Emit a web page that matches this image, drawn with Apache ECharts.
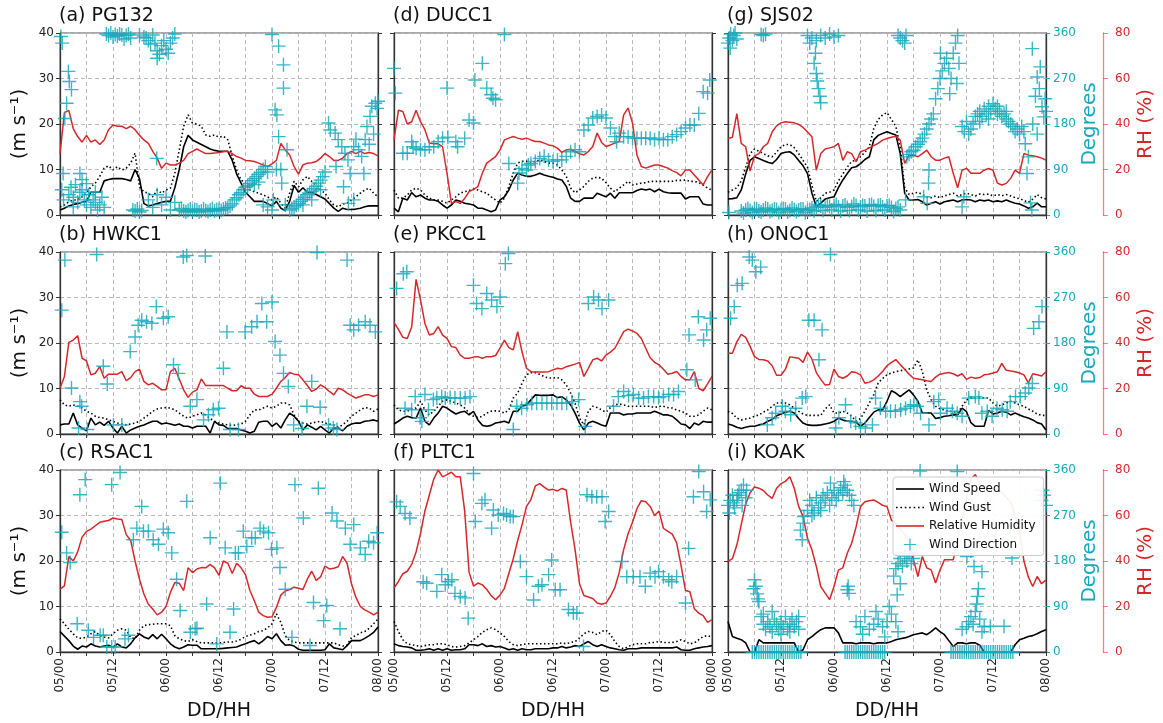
<!DOCTYPE html>
<html>
<head>
<meta charset="utf-8">
<script src="https://cdn.jsdelivr.net/npm/echarts/dist/echarts.min.js"></script>
<style>
  html, body { margin: 0; padding: 0; background: #fff; }
  #chart { width: 1163px; height: 723px; }
</style>
</head>
<body>
<div id="chart"></div>
<script>
// ---- Station observations, 05/00 to 08/00, hourly (index = hours since 05/00) ----
const stationNames = ['(a) PG132', '(b) HWKC1', '(c) RSAC1', '(d) DUCC1', '(e) PKCC1', '(f) PLTC1', '(g) SJS02', '(h) ONOC1', '(i) KOAK'];
const dayTicks = [0, 12, 24, 36, 48, 60, 72];

// (a) PG132
const ws_PG132 = [1.1,1.5,2.0,2.3,2.5,2.8,3.0,5.0,5.0,5.0,7.5,7.8, 8.0,8.0,8.0,7.8,7.5,10.0,8.0,2.5,2.0,2.2,2.5,2.8,
  3.0,3.0,6.0,10.0,15.0,17.5,16.5,16.0,15.5,15.0,14.5,14.2, 14.0,14.0,14.0,12.0,9.0,7.0,5.0,4.0,3.0,3.0,3.0,2.5,
  2.0,3.0,1.5,1.0,3.0,6.5,5.0,6.0,5.0,5.0,4.5,4.0, 3.5,2.5,1.5,0.8,1.5,1.2,1.2,1.3,1.5,1.8,2.0,2.0, 2.0];
const wg_PG132 = [1.8,2.2,2.9,3.3,3.3,4.0,4.8,6.2,7.0,8.5,10.3,10.8, 9.9,10.6,9.9,10.3,11.4,13.6,6.2,5.1,4.8,4.0,5.5,4.8,
  5.5,5.9,9.2,14.3,19.5,22.0,20.2,20.0,19.5,17.6,17.3,17.6, 17.1,17.3,16.5,12.9,9.9,7.7,7.0,5.5,5.1,4.8,4.4,4.0,
  3.3,4.0,2.6,1.5,4.8,7.4,6.2,7.7,8.5,7.4,6.6,5.5, 4.8,3.3,2.2,1.8,2.4,2.6,3.3,4.0,4.8,5.5,5.9,4.8, 4.0];
const rh_PG132 = [27,45,46,38,34.5,32,35,32,33,31,33,37.5, 39.6,39,39,38,39,37.5,35,33,31.5,28,25,20.5,
  22.8,22,22,22.8,24,27,28,29,28,27,27,27.2, 27.5,27.8,28,27,25.7,25,24,23.8,23.5,22.8,22,21.3,
  22.5,24,31.5,28.6,26.4,21.3,18,22,22.8,23,23.5,25, 27,25.7,24,24,25,27,28,27,28,27,27.5,27, 26];
const wd_PG132 = [[0.2,353],[0.5,340],[1.9,284],[2.1,264],[2.6,248],[1.5,221],[1.1,191],[0.7,82],[0.4,50],[0.8,30],
  [2,40],[2.5,55],[3,35],[3.5,60],[4,25],[4.5,82],[4.5,45],[5,70],[5.5,30],[6,20],[6.5,40],[7,15],[7.5,30],[8,25],[8.5,10],[9,20],[9.5,35],[10,15],[3,16],[5,50],[6,62],[8,45],
  [10.5,358],[11,355],[11.5,360],[12,352],[12.5,357],[13,354],[13.5,358],[14,356],[14.5,348],[15,355],[15.5,358],[16,350],
  [16.5,10],[17,8],[17.5,12],[18,6],[18.5,9],[18,356],[19,352],
  [19.5,350],[20,345],[20.5,338],[21,356],[21.5,340],[22,325],[22.5,318],[23,335],[23.5,345],[24,328],[24.5,320],[25,340],[25.5,350],[26,358],[22,310],
  [20,30],[21,15],[22,40],[23,20],[24,35],[25,10],[26,25],[21.9,112],
  [27,10],[27.5,13],[28,8],[28.5,6],[29,9],[29.5,12],[30,7],[30.5,11],[31,10],[31.5,6],[32,8],[32.5,12],[33,9],[33.5,7],[34,10],[34.5,13],[35,8],[35.5,11],[36,11],[36.5,9],[37,12],[37.5,14],
  [38,15],[38.5,18],[39,22],[39.5,30],[40,34],[40.5,40],[41,44],[41.5,50],[42,55],[42.5,58],[43,62],[43.5,68],[44,72],[44.5,76],[45,80],[45.5,84],[46,90],[46.5,96],[44,60],[45,65],[46,20],[47,16],[47,85],
  [48,357],[49.5,334],[50.6,297],[50.6,251],[48.7,208],[49.1,198],[49.5,155],[51.4,129],[50.2,63],[48.3,30],[51,20],[48,10],[49,90],[50,90],
  [52,10],[52.5,13],[53,16],[53.5,19],[54,23],[54.5,27],[55,31],[55.5,35],[56,40],[56.5,43],[57,47],[57.5,52],[58,57],[58.5,63],[59,69],[59.5,76],[60,85],[55,20],[57,30],[59,50],
  [60.8,182],[61.2,168],[62.3,162],[63,149],[63.8,135],[64.5,122],[65.2,109],[62.5,96],[65.7,82],[64.2,56],[65.3,23],
  [66.5,135],[67.6,129],[68.3,116],[69.1,149],[69.5,175],[70.2,195],[70.6,215],[71.4,221],[71.8,211],[68.8,82],[66.5,30],[67,150],[70,140],[71,160],[72,225]];

// (b) HWKC1
const ws_HWKC1 = [2,2.2,2.2,4.6,2,1.3,0.7,3.5,2,2.6,1.9,2.8, 1.3,0.2,1.7,0.2,0.9,1.3,1.7,2,2.4,2.8,2.8,2.2,
  2.4,2.2,1.9,2.2,1.7,1.7,1.3,1.7,1.7,1.7,0.2,2.8, 2,1.9,1.2,1.2,1.2,0.9,0.6,0.2,0.6,2.6,2.8,2.8,
  1.7,2.4,1.3,3.1,4.6,3.9,2.8,0.9,2,1.5,0.9,1.7, 0.9,0.2,1.3,1.3,0.7,1.7,2.2,2.4,2.4,2.8,2.9,3.1, 2.8];
const wg_HWKC1 = [7.5,6.4,6.1,6.4,6.1,5.7,5,4.6,3.9,3.6,3.5,3.1, 2.8,2.4,2.2,2,2.2,2.4,2.8,3.5,4.2,5,5.5,5.7,
  5.8,5.7,5.3,4.6,3.9,3.5,3.9,4.2,4.6,4.2,3.4,2.8, 2.4,2.2,2,1.9,2,2.2,2.8,4.2,5.3,5.3,5.7,6.1,
  5.7,6.1,6.8,6.8,6.4,4.2,2.8,2.4,2.2,2.4,2.6,2.8, 2.4,2.2,1.9,1.5,2,2.8,3.9,4.6,5.3,5.8,5.7,5, 5.5];
const rh_HWKC1 = [20.1,25.3,40.3,41.3,43.2,33.3,32.1,26,26.7,29.6,24.5,26.3, 26.3,26.3,27.4,23.4,24.8,27.4,28.5,23.1,21.6,22.3,20.9,19.4,
  19.4,27.4,28.9,24.2,19.4,16.1,18.4,19.4,24.2,21.3,21.3,21.3, 21.3,21.3,20.1,19,19,21.2,20.1,20.1,17.5,16.5,16.5,16.5,
  17.5,20.1,23.1,24.8,27,26.3,26,23.8,21.3,18.7,19.7,21.6, 20.4,18.7,17.2,20.1,19.4,18,16.9,15.8,16.5,17.2,17.2,16.5, 17.2];
const wd_HWKC1 = [[0.4,245],[1.1,344],[2.6,91],[4.5,64],[4.9,55],[4.2,12],[6.2,9],[8.3,355],[9.8,134],[10.7,99],[12.1,18],[14,18],
  [15.9,163],[17,192],[17.7,215],[18.5,225],[19.6,222],[20.8,219],[21.8,252],[23.4,229],[24.5,232],[25.7,137],[26.8,120],[27.9,350],[28.7,353],
  [29.5,55],[31,68],[32.9,352],[32.5,28],[33.6,38],[34.7,48],[35.9,51],[37,130],[37.8,202],[38.5,9],[40.4,9],[41.9,202],[43.4,212],[44.6,222],
  [45.7,258],[46.8,222],[48,261],[48.7,183],[49.8,156],[50.6,120],[51.7,94],[52.9,18],[54.8,11],[55.9,55],[57,104],[58.2,359],[58.9,53],
  [60.8,18],[61.9,12],[62.7,9],[65,344],[65.7,215],[66.5,206],[67.6,215],[69.1,222],[70.2,215],[71.4,202]];

// (c) RSAC1
const ws_RSAC1 = [4.5,3.5,2.5,1.3,0.6,1.3,1.1,1.8,1.3,1.1,1.3,1.5, 1.0,1.8,1.1,0.9,1.8,3.1,4.0,3.3,2.9,3.8,2.9,3.9,
  2.9,1.8,1.1,0.7,1.1,1.6,1.5,1.5,0.7,0.7,0.7,0.7, 0.7,0.8,0.9,1.0,1.1,1.5,1.8,2.2,2.5,1.8,2.5,3.4,
  2.9,4.0,2.5,1.5,1.6,1.3,0.6,0.4,0.4,0.4,0.4,0.4, 0.5,1.8,0.9,0.7,0.5,1.4,2.5,2.5,2.5,3.0,3.6,4.3, 5.5];
const wg_RSAC1 = [7.3,6.2,5.0,4.0,3.1,3.0,3.3,4.0,4.5,3.6,3.3,3.1, 4.0,4.8,5.1,4.8,3.2,2.9,4.8,5.8,6.0,6.1,6.2,6.2,
  6.2,5.8,3.6,2.9,2.5,2.3,2.7,2.3,2.0,2.0,2.0,2.0, 2.0,2.1,2.2,2.2,2.4,2.8,3.4,3.7,4.0,4.5,4.7,5.3,
  6.2,8.4,6.5,3.6,2.5,2.2,2.0,2.0,2.0,2.0,2.0,2.0, 2.0,2.0,2.0,1.6,1.3,1.5,3.2,3.6,4.2,4.5,5.2,6.2, 7.3];
const rh_RSAC1 = [27.6,29.1,42,40,44,50.5,53,54,55.5,57,57.5,57.8, 58.9,58.5,58.2,51.6,49,40,32,25.5,21,18.9,16.3,17.5,
  20,26.2,30.5,30.2,27,37,34.9,36.5,37.1,37,38.5,37, 33.7,40,39,34.5,39,37,34,27,22.5,17.5,16,15.3,
  15.5,19.6,25,26.8,27.5,28.5,28,27.5,32,35.5,31.5,33, 37.8,36.5,36.8,37.5,42,39,30,24,20,18.5,17.5,16.3, 17.5];
const wd_RSAC1 = [[0.4,237],[1.5,196],[2.3,177],[3.9,56],[4.5,311],[5.7,341],[6.4,43],[7.6,29],[9.1,33],[9.8,33],[10.6,10],[11.7,10],[11.7,331],
  [12.5,10],[13.6,355],[14.7,26],[15.5,33],[16.6,222],[17.4,245],[18.5,288],[18.9,239],[20,239],[21.1,222],[22.3,213],[23.4,243],[24.5,236],
  [25.3,196],[26.4,144],[27.2,82],[28.7,298],[29.5,39],[30.6,46],[31,47],[33.2,95],[34,226],[35.5,16],[36.3,334],[37.4,206],[38.5,39],
  [39.7,196],[39.3,85],[40.4,196],[41.5,239],[42.3,209],[43.4,226],[44.2,226],[45.3,245],[46.1,239],[47.2,236],[47.9,203],[49.1,206],
  [49.8,167],[51,124],[52.5,29],[53.2,331],[55.1,265],[56.6,13],[57.4,98],[58.5,324],[59.7,62],[60.4,92],[61.6,275],[62.7,259],[63.4,46],
  [64.6,245],[65.7,213],[66.5,252],[68,206],[69.1,193],[69.9,219],[71,216],[71.8,236]];

// (d) DUCC1
const ws_DUCC1 = [1.5,0.7,3.7,3.3,4.9,4.0,4.4,3.7,3.3,3.3,3.0,2.2, 1.5,2.2,3.3,3.0,2.6,2.4,2.2,1.5,1.5,1.1,0.7,1.1,
  3.3,4.0,5.5,7.7,9.2,8.8,8.5,8.5,8.8,9.2,8.8,8.5, 8.3,7.9,7.7,6.3,3.7,3.0,3.0,3.7,3.7,3.7,4.8,4.4,
  4.0,4.8,3.7,4.9,4.9,4.9,4.9,5.4,5.7,5.5,5.7,5.1, 5.7,5.1,4.9,4.8,4.8,4.8,3.5,4.0,4.0,4.0,2.4,2.2, 2.2];
const wg_DUCC1 = [5.5,3.7,3.7,4.4,5.5,5.9,5.5,4.4,3.7,3.3,3.3,3.0, 2.6,3.3,4.0,4.8,5.1,5.4,5.7,5.5,5.1,4.8,4.0,3.3,
  2.6,3.7,6.3,9.2,11.4,11.8,11.8,11.4,11.8,12.1,11.8,11.4, 11.4,11.0,9.9,8.5,5.9,4.9,5.5,6.3,7.4,8.1,8.3,8.1,
  7.1,5.9,5.1,5.9,6.6,7.4,6.6,6.8,7.0,7.1,7.4,7.4, 7.4,7.4,7.4,7.4,7.6,7.6,7.7,7.4,7.4,7.1,6.6,5.9, 5.5];
const rh_DUCC1 = [33,46,45.5,40,41,46,41,37.5,31.6,31.3,31.3,30, 18.4,5.1,5.9,5.1,7.3,10.3,11.3,12.5,18.4,22.8,24.2,25.7,
  28.6,33,33.8,34.5,33.8,33.3,33.8,33,32.3,32.3,31.6,30.8, 30.4,29.4,27.5,28.6,28.9,27.9,26.9,26.4,27.9,30.1,36,31.9,
  30.1,30.8,31.6,32.3,44,47,40.4,26.4,21.3,20.6,21.3,22, 22,21.3,20.6,19.5,18.6,17.2,19.8,19.8,17.6,15.4,13.2,16.9, 19.8];
const wd_DUCC1 = [[0,290],[0.3,241],[2,122],[3,122],[4,145],[4.3,135],[5,132],[6,129],[7,129],[8,135],[9,135],[10,145],[11,152],[12,251],[12.2,154],
  [14,145],[14.4,135],[16,152],[17,188],[18,182],[18.3,267],[20,300],[21,251],[22,238],[22.4,231],[23,228],[25,357],[26,102],[28,63],[28.3,83],
  [29,92],[30,89],[30.4,99],[31,102],[32,106],[33,112],[34,116],[35,109],[36,106],[37,109],[38,109],[39,116],[40,125],[41,129],[42,125],
  [43,168],[44,178],[45,192],[46,195],[47,198],[48,192],[49,172],[50,155],[50.4,145],[51,162],[52,155],[53,155],[54,152],[55,152],[56,152],
  [57,152],[58,152],[59,149],[60,152],[61,149],[62,149],[63,155],[64,159],[65,165],[66,172],[67,178],[68,178],[69,201],[70,244],[71,241],[71.5,267]];

// (e) PKCC1
const ws_PKCC1 = [2.2,2.8,3.5,3.9,3.6,3.5,5.7,2.8,2,3.5,4.6,6.1, 5.7,5,4.4,4.8,5,4.2,5,3.1,1.9,1.7,1.9,2.4,
  2.6,2.8,2.4,5,5,6.1,6.4,7.5,8.6,8.5,8.5,8.5, 8.6,8,8.2,7.5,6.4,4.6,2.4,0.9,2.4,2.8,2.4,2,
  1.7,4.6,4.6,4.6,4.2,4.4,4.4,4.6,4.6,4.6,4.6,5, 4.6,4.2,4.2,3.9,3.1,2.2,2,1.2,2.4,2,2.8,2.6, 2.6];
const wg_PKCC1 = [6.4,5.3,5,5,5.5,5.7,7.2,5.3,4.2,5,6.1,7.2, 7.5,7.2,6.8,6.4,5.7,4.6,3.9,3.6,3.9,4.6,5,5.1,
  5,4.6,5.3,7.9,9,11.2,13,13.5,13.5,13.1,12.6,12.3, 12.3,12.4,11.9,10.8,9,6.8,3.5,2,5,6.1,5.8,5.3,
  4.8,5.8,6.4,6.6,6.4,6.1,6.1,6.1,6.1,6.1,6.1,5.8, 6.1,6.1,5.8,5.7,5.3,5,4.6,3.9,3.9,4.2,5,5.7, 5.3];
const rh_PKCC1 = [49,46,42.5,42,47,68,59,48.6,43.5,44.2,47.2,43.5, 42,38.4,38,34.7,33.3,33.3,33.8,34,33.3,34,34,34.5,
  37.7,41.3,38,37,45,36,28.9,27.4,27.2,27.2,27.2,27.4, 28.2,28.9,28.6,29.6,30.1,30.7,31.5,25.3,28.9,32.6,33.3,32.1,
  34.7,36,37.7,41.3,45,46.1,45.3,44.2,42,37.7,33.5,31.5, 30.4,28.5,26.3,26.7,27.5,25.3,23.8,23.8,27.4,20.1,19,22, 25.3];
const wd_PKCC1 = [[0.6,288],[2.1,317],[2.9,321],[2.5,51],[4,48],[4.8,74],[5.9,32],[6.3,25],[7,78],[7.8,48],[8.9,68],[9.7,71],[10.8,74],[11.6,71],
  [12.7,72],[13.8,71],[15,71],[16.1,71],[17.2,74],[18,294],[18.7,258],[19.9,248],[21,278],[22.1,265],[23.3,252],[24,271],[25.2,337],[25.9,357],
  [27,9],[27.8,55],[28.9,51],[30.1,58],[31.2,61],[32.3,61],[33.5,61],[34.6,61],[35.7,61],[36.9,61],[38,61],[39.1,61],[40.3,64],[41.8,68],
  [43.3,15],[44,258],[45.2,271],[46.3,265],[47.1,248],[48.6,265],[49.7,55],[50.8,74],[52,84],[53.1,76],[54.2,78],[55.4,71],[56.5,71],
  [57.6,74],[58.8,74],[59.9,72],[61,74],[62.2,78],[63.3,78],[64.4,84],[66.3,127],[66.8,196],[68.2,107],[68.9,232],[70.1,186],[70.8,206],[71.6,229]];

// (f) PLTC1
const ws_PLTC1 = [1.8,1.4,1.2,1.1,0.9,0.4,0.4,0.5,0.7,0.4,0.7,0.4, 0.7,0.4,0.5,0.5,0.7,1.6,1.6,1.4,1.8,1.2,1.4,1.1,
  1.2,0.9,0.5,0.7,0.4,0.7,0.5,0.5,0.7,0.7,0.7,0.7, 0.9,0.9,1.2,0.9,1.1,1.4,1.2,1.8,2.3,1.6,1.2,1.6,
  1.2,0.9,0.7,0.5,0.4,0.7,0.7,0.7,0.9,0.9,0.9,0.9, 0.9,0.9,0.9,0.9,1.1,0.5,0.4,0.4,0.7,0.9,1.1,1.2, 1.4];
const wg_PLTC1 = [6.7,4.5,2.7,1.8,1.6,1.4,1.2,1.4,1.6,1.6,1.8,1.8, 1.6,1.2,1.1,1.2,1.4,2,2.7,3.4,4.3,4.9,5.3,4.9,
  4.2,3.4,2.3,1.6,1.4,1.6,1.8,1.8,1.8,1.8,1.8,1.8, 1.8,1.8,2,1.8,2.1,2.3,3.1,4,4.5,4.3,3.8,4.5,
  4.8,3.8,2.3,1.2,0.7,1.2,1.6,1.8,1.8,1.8,2.1,2.1, 2.3,2.1,2.1,2.1,2.3,2.7,2.3,1.8,2,2.7,3.4,3.6, 3.3];
const rh_PLTC1 = [28.1,31,34.4,35.5,38.5,44,52,62,69,76,80,77, 78,79,77,77,62,35,29,30.3,29.5,27.5,24.8,23,
  25,28,34.5,41,49,56,64,67,73,74,72.5,71.2, 71.5,70.8,71.9,71.2,57,45,30,24.8,24.2,23.5,21.5,21,
  21.5,24.5,28.3,35,45,52,57,63,66.5,66,64,60, 62,54.4,53,51.8,48,38,27,26.5,19,17.1,16,13, 14.2];
const wd_PLTC1 = [[0.6,297],[1.4,288],[2.5,274],[3.6,265],[6.6,139],[7.4,136],[9.7,120],[10.8,153],[11.6,133],[12.3,139],[13.1,143],[13.8,116],
  [15,110],[16.1,107],[16.8,67],[18,353],[18.4,258],[19.9,294],[20.6,301],[22.1,245],[22.5,281],[23.6,271],[24.8,274],[25.5,271],[26.3,268],
  [27,268],[28.6,179],[30,149],[31.6,103],[32.7,130],[33.5,133],[35,153],[35.7,182],[36.5,123],[37.6,123],[39.5,84],[40.6,77],[41.4,77],
  [42.9,11],[43.7,311],[44.8,307],[45.9,307],[47.1,307],[47.8,258],[48.6,278],[51.6,179],[52.7,149],[54.2,149],[55.7,149],[56.9,130],
  [58,156],[59.1,149],[59.9,159],[61,149],[62.2,143],[62.9,139],[64,149],[66,97],[66.7,205],[67.8,307],[69,357],[70.1,317],[70.8,278],[71.6,301]];

// (g) SJS02
const ws_SJS02 = [3.5,3.6,3.8,5.5,9.0,12.0,12.8,12.4,12.0,11.6,11.3,12.2, 13.5,13.8,13.9,13.2,12.0,10.8,9.1,4.8,1.8,2.6,3.5,3.8,
  4.0,6.0,7.7,9.1,10.4,10.6,11.3,12.2,12.8,16.5,17.5,17.9, 18.3,17.9,17.6,13.5,4.8,3.3,3.3,3.4,2.9,2.2,2.6,2.9,
  2.4,2.9,3.1,3.3,2.9,3.3,3.4,3.3,2.9,3.3,3.1,3.3, 2.9,3.1,2.9,3.3,2.9,2.6,2.4,2.0,1.5,1.8,2.6,1.8, 1.8];
const wg_SJS02 = [5.0,5.5,6.0,7.5,10.5,13.5,14.5,14.0,13.5,13.0,12.8,13.8, 15.0,15.5,15.5,14.8,13.5,12.0,10.5,6.5,3.0,3.8,4.8,5.0,
  5.5,7.5,9.0,10.5,11.8,12.0,12.8,13.8,15.0,19.0,21.0,22.0, 22.5,21.0,19.5,15.0,6.0,4.5,4.8,5.0,4.5,4.0,3.8,4.2,
  3.8,4.2,4.5,4.8,4.2,4.5,4.8,4.5,4.2,4.6,4.5,4.6, 4.2,4.5,4.2,4.5,4.2,3.8,3.6,3.2,2.8,3.5,4.5,3.8, 3.5];
const rh_SJS02 = [33.6,34.2,44.6,31.5,30,19.3,26,27,30,31.5,36.5,39.2, 40.5,41,40.8,40.5,39.8,38.5,36.5,34.4,19.7,27,29,29.5,
  30,31.5,24,27.8,27,23.4,27.8,28.5,29.5,30.5,31.5,32.9, 33.6,34.2,34.6,32.9,22.7,26.3,26.3,25.6,27,28.5,25.6,24.1,
  24.1,25,25.6,18.3,12,19.7,20.5,18.3,18.3,18.3,19.7,20.5, 19.7,14,13.2,13.9,16.1,19.7,18.3,27,26.3,26,25.6,25, 24.1];
const wd_SJS02 = [[0,340],[0.3,350],[0.6,358],[1,345],[1.3,355],[1.6,360],[2,348],[0.5,330],[0.2,5],
  [3,8],[4,10],[5,9],[6,11],[7,8],[8,10],[9,12],[10,9],[11,11],[12,10],[13,12],[14,9],[15,11],[16,10],[17,12],[18,9],[19,14],[20,16],[21,18],
  [22,15],[23,17],[24,19],[25,16],[26,18],[27,15],[28,17],[29,19],[30,16],[31,18],[32,20],[33,17],[34,19],[35,16],[36,18],[37,15],[38,13],[39,10],
  [3.5,4],[5.5,5],[7.5,6],[9.5,7],[11.5,5],[13.5,6],[15.5,7],[17.5,5],[19.5,8],[21.5,9],[23.5,10],[25.5,8],[27.5,9],[29.5,10],[31.5,8],[33.5,9],[35.5,10],[37.5,7],
  [4.5,13],[6.5,12],[8.5,14],[10.5,12],[12.5,13],[14.5,14],[16.5,12],[18.5,11],[20.5,20],[22.5,19],[24.5,21],[26.5,20],[28.5,22],[30.5,19],[32.5,21],[34.5,20],[36.5,19],[38.5,16],
  [7.5,357],[8,355],[8.5,358],
  [18,355],[19,350],[20,345],[21,355],[22,350],[23,358],[24,352],[25,355],[18.5,340],[19.5,300],[20,280],[20.2,265],[20.5,250],[20.8,235],[21,222],[19.8,320],
  [38.5,355],[39,350],[39.5,345],[40,340],[40.3,355],
  [40.5,115],[41,120],[41.5,125],[42,128],[42.5,135],[43,140],[43.5,145],[44,152],[44.5,160],[45,170],[45.5,180],[46,190],[45.5,89],[45.4,63],[44.3,36],[40.2,30],[45.1,23],
  [46.5,200],[47,230],[47.5,250],[48,270],[48.5,285],[49,300],[49.5,310],[50,290],[50.5,270],[51,320],[51.5,340],[52,355],[52.3,300],[51.8,260],[50.2,240],[48.1,320],
  [53,175],[53.5,165],[54,185],[54.5,160],[55,170],[55.5,180],[53.4,36],[53,16],
  [56,195],[56.5,200],[57,205],[57.5,195],[58,210],[58.5,200],[59,215],[59.5,205],[60,220],[60.5,210],[61,215],[61.5,205],[62,195],[62.5,200],[63,190],[63.5,185],[64,180],
  [57,185],[59,190],[61,200],[63,205],[64.5,175],[65,165],[65.5,170],[66,160],[66.5,175],[67,165],
  [68.9,329],[70.7,293],[70,273],[69.6,235],[71.1,214],[71.5,194],[67.3,141],[68,115],[67.7,82],[68.5,24],[68.8,10],[70.5,250],[71.8,230],[72,205],[69,180],[70,160]];

// (h) ONOC1
const ws_ONOC1 = [2.2,1.9,1.5,1.2,1.5,1.7,1.7,2,2.2,2.8,3.2,4.0, 4.4,4.8,5,4.6,3.4,2.4,2,1.9,1.9,2,2.2,2.4,
  2.8,3.5,3.1,2.8,2.8,2.6,1.7,2.4,3.6,4.8,5.3,5.3, 7.2,9.5,9,8.2,9,9.7,8.6,7.2,4.6,4.6,4.6,3.4,
  3.6,3.9,4,4.2,4.2,5.7,4.9,2.5,1.7,1.7,1.7,5.2, 4.4,4.6,5,4.8,4.2,4.6,4.2,3.8,3.5,3.1,2.5,2.2, 0.9];
const wg_ONOC1 = [5,4.5,3.5,3.1,3.3,3.5,3.9,4.2,4.8,5.3,6.1,6.8, 6.8,6.8,6.4,5.7,5,4.4,4.1,4.1,4.1,4.1,5.5,6.4,
  4.6,4.6,5,4.6,3.9,2.8,3.4,5,6.8,8.6,11.2,12.2, 13,13.4,13.7,13.9,14.1,14.3,14.5,16.3,13.7,9.7,7.5,6.1,
  5.5,5.3,5,5,4.6,6.1,7.5,7.9,7.9,7.9,7.9,7.9, 6.8,6.1,6.4,6.8,7.2,6.8,6.4,6.1,5.5,5,4.4,4.1, 4.1];
const rh_ONOC1 = [35.5,35.5,40.5,43.8,42.5,38.5,34,32.8,32.6,32.1,30,25.8, 25.8,28.5,33.9,33.6,33.3,31.5,36,33,27,24,21.5,21.8,
  28.5,25.3,24.5,25.5,27.4,27,26,22.3,22.8,23.8,25.5,27.5, 30,31.5,32.7,30.5,28.5,26.3,24.5,24.2,23.8,23.4,23.1,25,
  26.3,26.7,27,26.5,25.5,26.5,24,25,24.5,24.8,26,26.3, 26.8,27.4,31,28,27.7,27.4,26.8,26,22.5,26.5,26,25.5, 27.4];
const wd_ONOC1 = [[0.6,229],[1.4,252],[2.1,294],[3.2,298],[4.8,350],[5.5,344],[6.3,321],[7.4,330],[8.9,18],[10,32],[10.8,41],[12.3,55],[13,45],
  [14.2,38],[15.3,51],[16.8,71],[17.6,74],[18.3,225],[19.5,225],[20.6,147],[21.3,206],[23.2,355],[24.4,12],[25.1,32],[26.6,58],[27.8,25],
  [28.9,22],[30,15],[31.1,12],[32.7,18],[33.4,71],[34.5,51],[35.7,45],[36.8,45],[37.9,45],[39.1,48],[40.2,51],[41.3,55],[42.1,58],[42.8,55],
  [43.6,41],[45.5,18],[46.6,64],[47.7,68],[48.1,41],[49.6,51],[50.8,45],[51.9,41],[53,35],[54.5,71],[56,74],[56.8,71],[57.5,41],[58.7,45],
  [59.8,35],[60.9,51],[62.1,48],[63.2,45],[63.9,64],[65.1,74],[66.2,74],[67.3,81],[68.1,91],[68.9,100],[69.2,209],[70.4,222],[71.1,252]];

// (i) KOAK (no gust reports)
const ws_KOAK = [6.7,3.4,3.0,2.7,2.0,0,0,2.7,2.0,2.0,2.0,2.0, 2.0,2.0,2.0,2.0,0,0.5,2.7,3.4,4.2,4.9,5.3,5.3,
  5.3,4.2,2.0,2.0,2.0,1.8,2.0,2.0,2.0,1.8,2.0,2.0, 2.0,2.3,2.7,2.9,3.1,3.4,3.8,4.0,4.2,3.8,4.5,5.3,
  4.5,3.8,2.5,1.2,2.0,2.0,1.8,2.0,2.0,1.5,0,0, 0,0,0,0,0,1.6,2.7,3.0,3.4,3.6,4.0,4.5, 4.9];
const wg_KOAK = [];
const rh_KOAK = [39.8,41,47,56,65,70,72.5,72,71,69,67.5,72, 74,75,77,72,64,59.5,50,44.9,37.6,28.8,25.9,23,
  28.8,36,37,43.4,47.8,55,63.9,66,66.5,66.8,65.8,64.5, 63.9,58,56.6,54,52,48,40.5,33.2,42,37,36.1,30.3,
  36,40.5,40.5,40.5,49.3,58,66.8,76,78,74,72,72, 71,72,70,68,66,60,53.7,40,33,28.8,33.2,30, 31.7];
const wd_KOAK = [[0,290],[0.3,275],[0.5,300],[1,310],[1.2,295],[1.5,285],[2,300],[2.2,310],[2.5,315],[3,320],[3.2,290],[3.5,330],[4,305],[4.2,320],
  [5.8,125],[6,143],[6.3,130],[6.6,115],[6.8,105],[7,100],
  [7.5,70],[8,55],[8,75],[8.5,45],[9,60],[9.5,50],[10,40],[10,80],[10.5,65],[11,55],[11.5,45],[12,60],[12,35],[12.5,50],[13,70],[13.5,45],[14,55],[14,40],[14.5,65],[15,50],[15.5,60],[16,45],[16,70],
  [5.5,0],[6,0],[6.5,0],[7,0],[7.5,0],[8,0],[8.5,0],[9,0],[9.5,0],[10,0],[10.5,0],[11,0],[11.5,0],[12,0],[12.5,0],[13,0],[13.5,0],[14,0],[14.5,0],[15,0],[15.5,0],[16,0],[16.5,0],
  [16.4,241],[16.8,222],[17,255],[17.2,268],
  [18,280],[18.5,300],[19,290],[19,270],[19.5,275],[20,305],[20.5,285],[21,295],[21,280],[21.5,310],[22,300],[22.5,315],[23,290],[23.2,334],[23.5,305],
  [24,320],[24.5,300],[25,310],[25.5,325],[26,315],[26.2,337],[26.5,330],[27,320],[27.5,310],[28,300],[28.5,290],
  [27,123],[27.2,130],[27.4,116],
  [26.5,0],[27,0],[27.5,0],[28,0],[28.5,0],[29,0],[29.5,0],[30,0],[30.5,0],[31,0],[31.5,0],[32,0],[32.5,0],[33,0],[33.5,0],[34,0],[34.5,0],[35,0],[35.5,0],
  [29,60],[30,50],[30.5,35],[31,70],[32,45],[33,55],[33.5,80],[34,65],[35,50],[35.5,30],[36,60],[36.5,90],[37,75],[38,60],[38.5,40],
  [37.5,150],[38,165],[38.3,113],[38.5,175],[39,185],[39,135],[39.5,170],[40,190],[40.5,180],[41,195],[41.5,175],[42,185],
  [43.5,358],[51.9,357],
  [50.5,0],[51,0],[51.5,0],[52,0],[52.5,0],[53,0],[53.5,0],[54,0],[54.5,0],[55,0],[55.5,0],[56,0],[56.5,0],[57,0],[57.5,0],[58,0],[58.5,0],[59,0],
  [59.5,0],[60,0],[60.5,0],[61,0],[61.5,0],[62,0],[62.5,0],[63,0],[63.5,0],[64,0],[64.5,0],
  [53,45],[54,50],[54.5,60],[55,70],[55.5,55],[56,80],[56.3,95],[56.5,110],[56.7,125],[57,65],[57.5,40],[58,50],
  [54.1,189],[55,200],[55.7,169],[57.5,159],[59.4,51],[62.5,51],[64.3,186],
  [71,300],[71.2,320],[71.5,310],[72,290]];

const speedSets = [ws_PG132, ws_HWKC1, ws_RSAC1, ws_DUCC1, ws_PKCC1, ws_PLTC1, ws_SJS02, ws_ONOC1, ws_KOAK];
const gustSets  = [wg_PG132, wg_HWKC1, wg_RSAC1, wg_DUCC1, wg_PKCC1, wg_PLTC1, wg_SJS02, wg_ONOC1, wg_KOAK];
const rhSets    = [rh_PG132, rh_HWKC1, rh_RSAC1, rh_DUCC1, rh_PKCC1, rh_PLTC1, rh_SJS02, rh_ONOC1, rh_KOAK];
const dirSets   = [wd_PG132, wd_HWKC1, wd_RSAC1, wd_DUCC1, wd_PKCC1, wd_PLTC1, wd_SJS02, wd_ONOC1, wd_KOAK];

// ---- Layout and style ----
const FONT = 'DejaVu Sans';
const TEAL = '#17a9bb';
const RED = '#d62728';
const RED_AXIS = 'rgba(214,39,40,0.55)';
const SPINE = '#333';
const GRID_LINE = '#b9b9c3';
const COL_LEFT = [60, 394, 728];
const ROW_TOP = [33, 252, 470];
const PANEL_W = 318, PANEL_H = 182;
const PLUS = 'path://M0,5.4H12V6.6H0Z M5.4,0H6.6V12H5.4Z';
const LINE_ICON = 'path://M0,0H28V1.6H0Z';
const DOT_ICON = 'path://M0,0H1.6V1.6H0Z M4.4,0H6V1.6H4.4Z M8.8,0H10.4V1.6H8.8Z M13.2,0H14.8V1.6H13.2Z M17.6,0H19.2V1.6H17.6Z M22,0H23.6V1.6H22Z M26.4,0H28V1.6H26.4Z';

const pad2 = n => String(n).padStart(2, '0');
const timeLabel = h => pad2(5 + Math.floor(h / 24)) + '/' + pad2(h % 24);
const hourly = arr => arr.map((v, i) => [i, v]);

const option = {
  animation: false,
  backgroundColor: '#fff',
  textStyle: { fontFamily: FONT },
  title: [], grid: [], xAxis: [], yAxis: [], series: [],
  legend: {
    left: 893, top: 477, orient: 'vertical',
    data: [
      { name: 'Wind Speed', icon: LINE_ICON },
      { name: 'Wind Gust', icon: DOT_ICON },
      { name: 'Relative Humidity', icon: LINE_ICON },
      { name: 'Wind Direction', icon: PLUS }
    ],
    symbolKeepAspect: true,
    itemStyle: { borderWidth: 0 },
    backgroundColor: 'rgba(255,255,255,0.92)', borderColor: '#cccccc', borderWidth: 1, borderRadius: 3,
    padding: [6, 8, 5, 3], itemWidth: 28, itemHeight: 12, itemGap: 6.5,
    textStyle: { fontSize: 12, fontFamily: FONT, color: '#111' },
    selectedMode: false, z: 20
  }
};

stationNames.forEach((name, k) => {
  const col = Math.floor(k / 3), row = k % 3;
  const left = COL_LEFT[col], top = ROW_TOP[row];

  option.title.push({
    text: name, left: left - 1, top: top - 26, padding: 0,
    textStyle: { fontSize: 19, fontWeight: 'normal', color: '#111', fontFamily: FONT }
  });
  option.grid.push({
    left: left, top: top, width: PANEL_W, height: PANEL_H,
    show: true, borderColor: '#555', borderWidth: 1, backgroundColor: 'transparent'
  });
  option.xAxis.push({
    gridIndex: k, type: 'value', min: 0, max: 72, interval: 6,
    axisLine: { show: true, onZero: false, lineStyle: { color: SPINE, width: 1.3 } },
    axisTick: { show: true, length: 4, lineStyle: { color: SPINE } },
    axisLabel: {
      show: row === 2, rotate: 90, fontSize: 12, fontFamily: FONT, color: '#222', margin: 6,
      formatter: v => (dayTicks.indexOf(v) >= 0 ? timeLabel(v) : '')
    },
    splitLine: { show: true, lineStyle: { color: GRID_LINE, type: [4, 3], width: 1 } },
    name: row === 2 ? 'DD/HH' : '', nameLocation: 'middle', nameGap: 50,
    nameTextStyle: { fontSize: 19, fontFamily: FONT, color: '#111' }
  });
  // speed axis (left)
  option.yAxis.push({
    gridIndex: k, type: 'value', min: 0, max: 40, interval: 10, position: 'left',
    axisLine: { show: true, onZero: false, lineStyle: { color: SPINE, width: 1.3 } },
    axisTick: { show: true, length: 4, lineStyle: { color: SPINE } },
    axisLabel: { show: col === 0, fontSize: 12, fontFamily: FONT, color: '#222', margin: 6 },
    splitLine: { show: true, lineStyle: { color: GRID_LINE, type: [4, 3], width: 1 } },
    name: col === 0 ? '(m s\u207B\u00B9)' : '', nameLocation: 'middle', nameRotate: 90, nameGap: 30,
    nameTextStyle: { fontSize: 20, fontFamily: FONT, color: '#111' }
  });
  // direction axis (right spine)
  option.yAxis.push({
    gridIndex: k, type: 'value', min: 0, max: 360, interval: 90, position: 'right',
    axisLine: { show: true, onZero: false, lineStyle: { color: SPINE, width: 1.3 } },
    axisTick: { show: true, length: 4, lineStyle: { color: col === 2 ? TEAL : SPINE } },
    axisLabel: { show: col === 2, fontSize: 12, fontFamily: FONT, color: TEAL, margin: 7 },
    splitLine: { show: false },
    name: col === 2 ? 'Degrees' : '', nameLocation: 'middle', nameRotate: 90, nameGap: 34,
    nameTextStyle: { fontSize: 20, fontFamily: FONT, color: TEAL }
  });
  // relative humidity axis (offset right)
  option.yAxis.push({
    gridIndex: k, type: 'value', min: 0, max: 80, interval: 20, position: 'right', offset: 57,
    show: col === 2,
    axisLine: { show: true, onZero: false, lineStyle: { color: RED_AXIS, width: 1.3 } },
    axisTick: { show: true, length: 5, lineStyle: { color: RED_AXIS } },
    axisLabel: { fontSize: 12, fontFamily: FONT, color: RED, margin: 12 },
    splitLine: { show: false },
    name: 'RH (%)', nameLocation: 'middle', nameRotate: 90, nameGap: 33,
    nameTextStyle: { fontSize: 20, fontFamily: FONT, color: RED }
  });

  option.series.push({
    type: 'line', name: 'Wind Speed', xAxisIndex: k, yAxisIndex: 3 * k,
    data: hourly(speedSets[k]), symbol: 'none', z: 2,
    lineStyle: { color: '#000', width: 1.6 }, itemStyle: { color: '#000' }
  });
  option.series.push({
    type: 'line', name: 'Wind Gust', xAxisIndex: k, yAxisIndex: 3 * k,
    data: hourly(gustSets[k]), symbol: 'none', z: 2,
    lineStyle: { color: '#000', width: 1.6, type: [1.5, 2.5] }, itemStyle: { color: '#000' }
  });
  option.series.push({
    type: 'line', name: 'Relative Humidity', xAxisIndex: k, yAxisIndex: 3 * k + 2,
    data: hourly(rhSets[k]), symbol: 'none', z: 3,
    lineStyle: { color: RED, width: 1.5 }, itemStyle: { color: RED }
  });
  option.series.push({
    type: 'scatter', name: 'Wind Direction', xAxisIndex: k, yAxisIndex: 3 * k + 1,
    data: dirSets[k], symbol: PLUS, symbolSize: 14, symbolKeepAspect: true, z: 4,
    itemStyle: { color: TEAL, opacity: 0.85 }
  });
});

const chart = echarts.init(document.getElementById('chart'), null, { renderer: 'canvas' });
chart.setOption(option);
</script>
</body>
</html>
